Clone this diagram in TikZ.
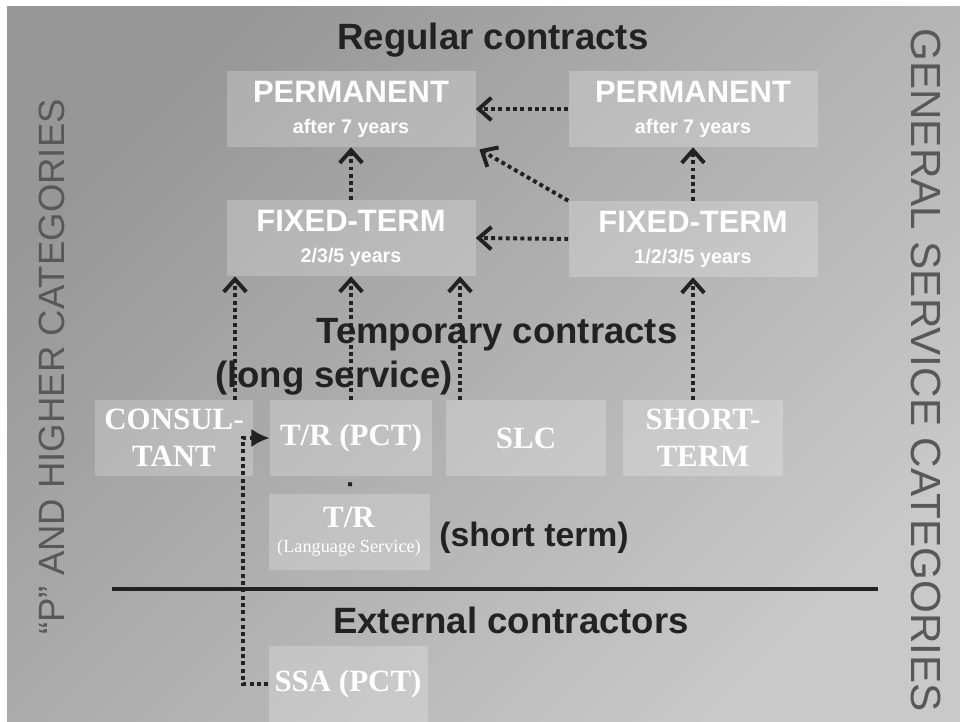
\documentclass[tikz,border=0pt]{standalone}
\usepackage{fontspec}
\setmainfont{Liberation Sans}
\newfontfamily\boxserif{Liberation Serif}
\usepackage{tikz}
\usetikzlibrary{arrows.meta}

\definecolor{bgdark}{HTML}{979797}
\definecolor{bglight}{HTML}{C9C9C9}
\definecolor{ink}{HTML}{222222}
\definecolor{sidegray}{HTML}{585858}

\newcommand{\boxhead}[1]{{\fontsize{22}{24}\selectfont\bfseries #1}}
\newcommand{\boxsub}[1]{{\fontsize{14}{16}\selectfont\bfseries #1}}

\begin{document}
\begin{tikzpicture}[x=0.025cm, y=-0.025cm,
    box/.style={fill=white, fill opacity=0.22, text opacity=1, text=white,
        inner sep=0pt, align=center, minimum width=#1*0.025cm, minimum height=76*0.025cm},
    regbox/.style={box=249, font=\fontsize{14}{22}\selectfont},
    tempbox/.style={box=#1, font=\boxserif\bfseries\fontsize{22}{26}\selectfont},
    heading/.style={text=ink, font=\bfseries\fontsize{26}{30}\selectfont, inner sep=0pt},
    sidetext/.style={text=sidegray, inner sep=0pt},
    conn/.style={draw=ink, line width=2.8pt, dash pattern=on 2.8pt off 2.4pt,
        -{Straight Barb[length=9pt,width=16pt]}},
    ]
    \useasboundingbox (0,0) rectangle (960,722);
    \fill[white] (0,0) rectangle (960,722);
    \shade[top color=bgdark, bottom color=bglight, shading angle=45] (7,7) rectangle (960,722);

    \node[sidetext, rotate=90, font=\fontsize{26}{30}\selectfont] (pcat) at (52,367) {“P” AND HIGHER CATEGORIES};
    \node[sidetext, rotate=-90, font=\fontsize{30}{34}\selectfont] (gscat) at (926,370) {GENERAL SERVICE CATEGORIES};

    \node[regbox] (permL) at (351,109) {\boxhead{PERMANENT}\\ \boxsub{after 7 years}};
    \node[regbox] (permR) at (693,109) {\boxhead{PERMANENT}\\ \boxsub{after 7 years}};
    \node[regbox] (ftL) at (351,238) {\boxhead{FIXED-TERM}\\ \boxsub{2/3/5 years}};
    \node[regbox] (ftR) at (693,239) {\boxhead{FIXED-TERM}\\ \boxsub{1/2/3/5 years}};

    \node[tempbox=158] (consult) at (174,438) {CONSUL-\\TANT};
    \node[tempbox=162] (trpct) at (351,438) {T/R (PCT)};
    \node[tempbox=160] (slc) at (526,438) {SLC};
    \node[tempbox=160] (short) at (703,438) {SHORT-\\TERM};
    \node[tempbox=161, font=\boxserif\fontsize{13}{18}\selectfont] (trls) at (349,532)
        {{\bfseries\fontsize{22}{24}\selectfont T/R}\\(Language Service)};
    \node[tempbox=159] (ssa) at (348,684) {SSA (PCT)};

    \node[heading] (regular) at (493,40) {Regular contracts};
    \node[heading] (temporary) at (497,335) {Temporary contracts};
    \node[heading] (long) at (334,378) {(long service)};
    \node[heading, font=\bfseries\fontsize{24}{28}\selectfont] (shortterm) at (534,538) {(short term)};
    \node[heading] (external) at (511,620) {External contractors};

    \coordinate (colA) at (235,0);
    \coordinate (colC) at (460,0);
    \coordinate (colE) at (243,0);

    \draw[conn] (permR.west) -- (permL.east);
    \draw[conn] (ftR.west) -- (ftL.east);
    \draw[conn, shorten >=3pt] (ftR.north west) -- (permL.south east);
    \draw[conn] (ftL.north) -- (permL.south);
    \draw[conn] (ftR.north) -- (permR.south);

    \draw[conn] (consult.north -| colA) -- (ftL.south -| colA);
    \draw[conn] (trpct.north) -- (ftL.south);
    \draw[conn] (slc.north -| colC) -- (ftL.south -| colC);
    \draw[conn] (short.north -| ftR.south) -- (ftR.south);
    \draw[conn, -, shorten <=0.15cm, shorten >=0.17cm] (trpct.south) -- (trls.north);

    \draw[ink, line width=2.4pt] (112,589) -- (878,589);

    \draw[conn, -{Latex[length=13pt,width=13pt]}] (ssa.west) -- (ssa.west -| colE) |- (trpct.west);
\end{tikzpicture}
\end{document}
